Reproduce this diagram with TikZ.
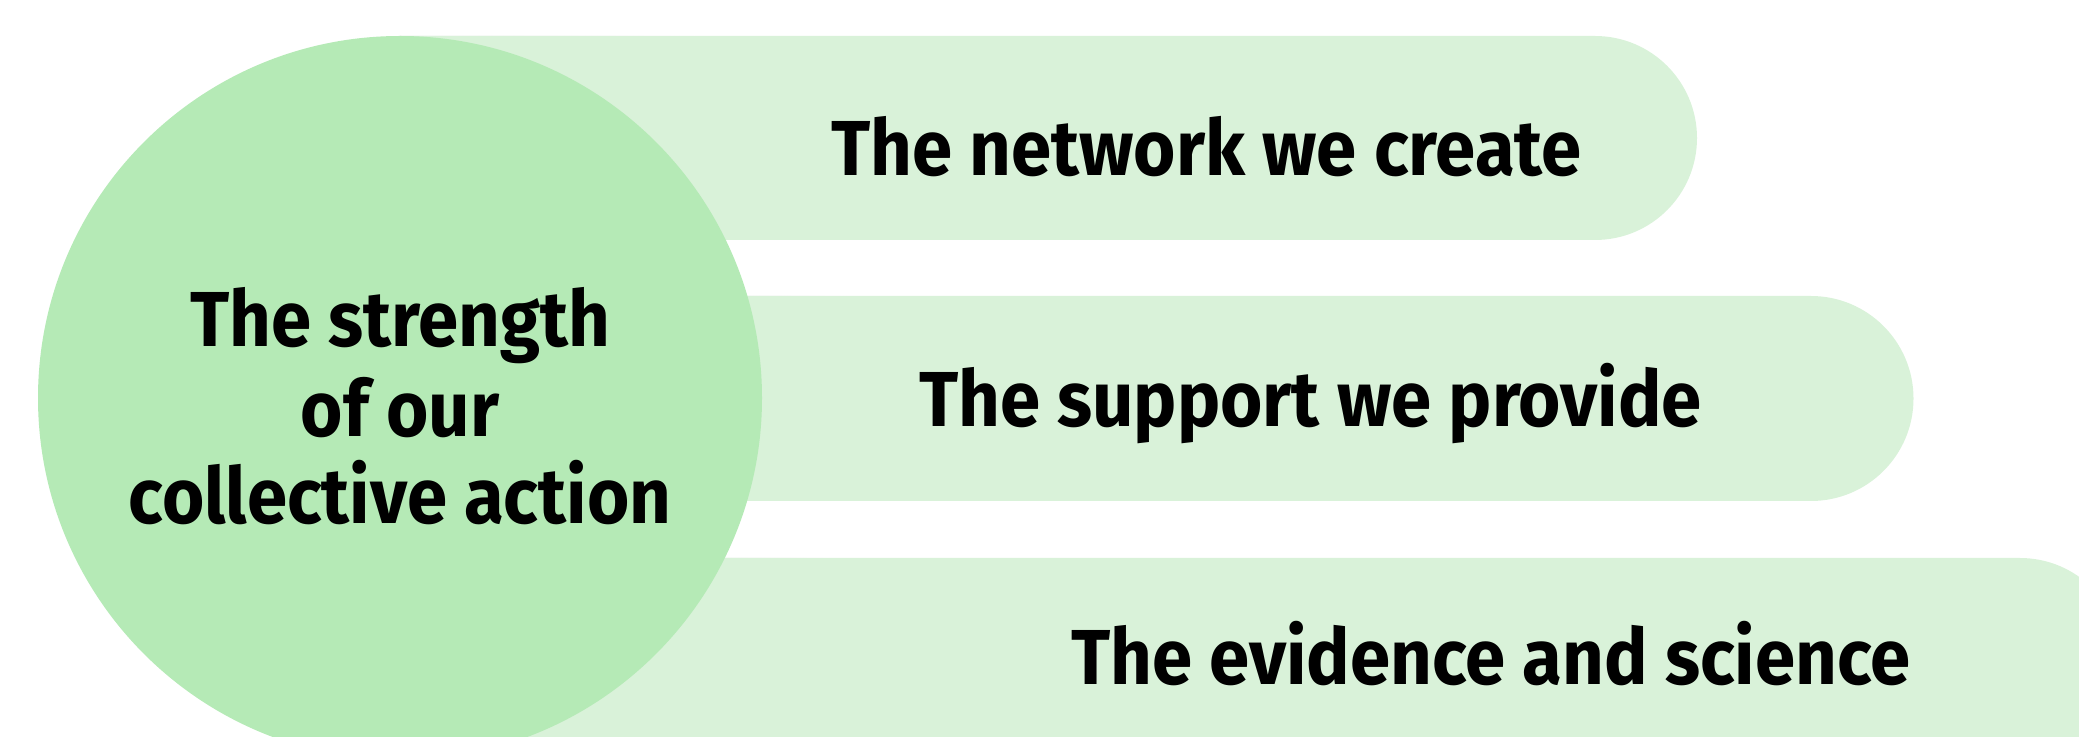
\documentclass[tikz,border=0pt]{standalone}
\usepackage{fontspec}
\usepackage{graphicx}
\setmainfont{Fira Sans}
\definecolor{circfill}{RGB}{181,234,182}
\definecolor{barfill}{RGB}{217,242,217}
\newcommand\narrowtxt[1]{\scalebox{0.93}[1]{#1}}
\tikzset{
  barshape/.style={fill=barfill},
  lbl/.style={anchor=base, inner sep=0pt, font=\fontsize{78}{86}\selectfont\bfseries, text=black},
}
\begin{document}
\begin{tikzpicture}[x=1pt,y=1pt]
\useasboundingbox (0,0) rectangle (2079,736);
\clip (0,0) rectangle (2079,736);
% bars
\fill[barshape] (400,700) -- (1595,700) arc[start angle=90,end angle=-90,radius=102pt] -- (400,496) -- cycle;
\fill[barshape] (400,440) -- (1811,440) arc[start angle=90,end angle=-90,radius=102.5pt] -- (400,235) -- cycle;
\fill[barshape] (400,178) -- (2020,178) arc[start angle=90,end angle=-90,radius=102pt] -- (400,-26) -- cycle;
% glow
\coordinate (cc) at (400,338);
\foreach \k in {1,...,40} {
  \fill[white, opacity=0.024] (cc) circle[radius={(362+3*\k)*1pt}];
}
% circle
\fill[circfill] (cc) circle[radius=362pt];
% texts
\node[lbl] (t1) at (1206.5,560) {\narrowtxt{The network we create}};
\node[lbl] (t2) at (1310.5,309) {\narrowtxt{The support we provide}};
\node[lbl] (t3) at (1491,52) {\narrowtxt{The evidence and science}};
\node[lbl] (c1) at (400,389) {\narrowtxt{The strength}};
\node[lbl] (c2) at (400,299) {\narrowtxt{of our}};
\node[lbl] (c3) at (400,212) {\narrowtxt{collective action}};
\end{tikzpicture}
\end{document}
